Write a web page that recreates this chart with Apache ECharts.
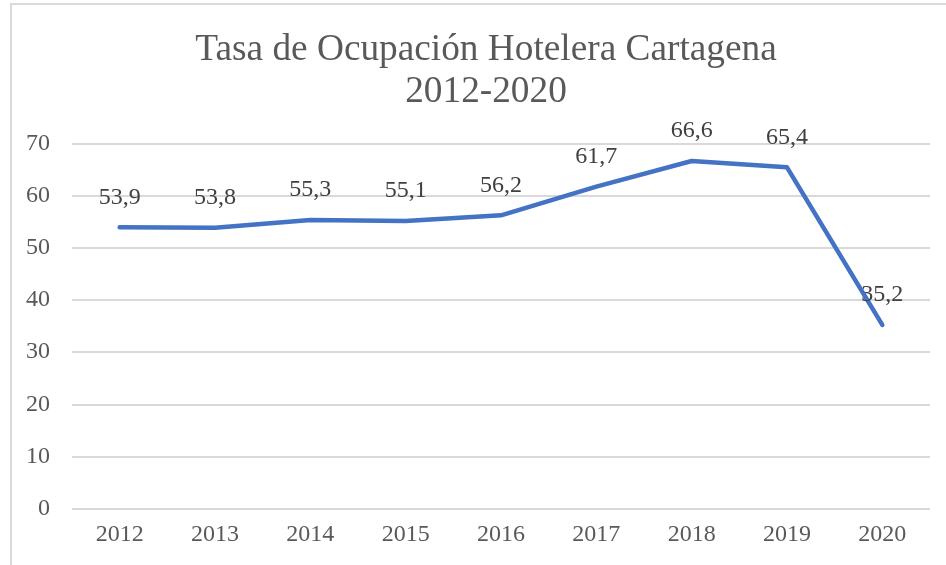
<!DOCTYPE html>
<html>
<head>
<meta charset="utf-8">
<script src="https://cdn.jsdelivr.net/npm/echarts@6/dist/echarts.min.js"></script>
<style>
  html, body { margin: 0; padding: 0; background: #fff; }
  #chart { width: 946px; height: 565px; }
  .frame {
    position: absolute;
    left: 10px;
    top: 3px;
    width: 960px;
    height: 600px;
    border-left: 2px solid #d9d9d9;
    border-top: 2px solid #d9d9d9;
    pointer-events: none;
  }
</style>
</head>
<body>
<div id="chart"></div>
<div class="frame"></div>
<script>
// años y tasa de ocupación (%)
const years = ['2012', '2013', '2014', '2015', '2016', '2017', '2018', '2019', '2020']
const occupancy = [53.9, 53.8, 55.3, 55.1, 56.2, 61.7, 66.6, 65.4, 35.2]
const yTicks = [0, 10, 20, 30, 40, 50, 60, 70]

const serif = '"Liberation Serif", "Times New Roman", serif'

const chart = echarts.init(document.getElementById('chart'))
chart.setOption({
  animation: false,
  title: {
    text: 'Tasa de Ocupación Hotelera Cartagena\n2012-2020',
    left: 481,
    top: 24,
    textAlign: 'center',
    textStyle: {
      fontFamily: serif,
      fontSize: 37.3,
      fontWeight: 'normal',
      color: '#595959',
      lineHeight: 42
    }
  },
  grid: {
    left: 72,
    right: 16,
    top: 143.3,
    bottom: 56.3
  },
  xAxis: {
    type: 'category',
    data: years,
    boundaryGap: true,
    axisLine: { show: false },
    axisTick: { show: false },
    axisLabel: {
      fontFamily: serif,
      fontSize: 24,
      color: '#595959',
      margin: 14
    }
  },
  yAxis: {
    type: 'value',
    min: 0,
    max: yTicks[yTicks.length - 1],
    interval: 10,
    axisLine: { show: false },
    axisTick: { show: false },
    splitLine: { lineStyle: { color: '#d9d9d9', width: 2 } },
    axisLabel: {
      fontFamily: serif,
      fontSize: 24,
      color: '#595959',
      margin: 22
    }
  },
  series: [
    {
      type: 'line',
      data: occupancy,
      showSymbol: true,
      symbol: 'circle',
      symbolSize: 0.1,
      itemStyle: { color: '#4472C4' },
      lineStyle: { color: '#4472C4', width: 4.5, cap: 'round', join: 'round' },
      label: {
        show: true,
        position: 'top',
        distance: 18,
        fontFamily: serif,
        fontSize: 24,
        color: '#404040',
        formatter: p => String(p.value).replace('.', ',')
      }
    }
  ]
})
</script>
</body>
</html>
